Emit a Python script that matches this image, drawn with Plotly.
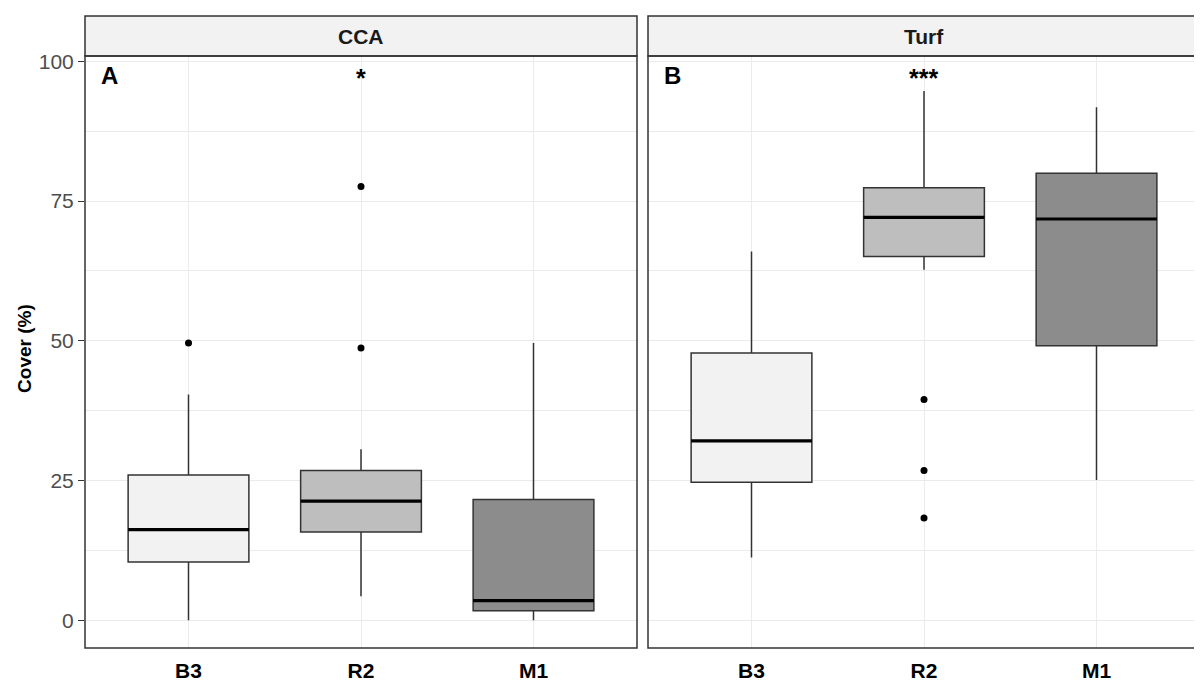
import plotly.graph_objects as go

# ---------------- data ----------------
categories = ["B3", "R2", "M1"]
panels = ["CCA", "Turf"]
panel_tags = ["A", "B"]
signif_labels = ["*", "***"]
signif_y = [97.0, 97.0]
tag_y = 97.4

cca_q1 = [10.4, 15.8, 1.7]
cca_median = [16.2, 21.3, 3.5]
cca_q3 = [26.0, 26.8, 21.6]
cca_lower = [0.0, 4.3, 0.0]
cca_upper = [40.4, 30.6, 49.6]
cca_outliers = [[49.6], [77.6, 48.7], []]

turf_q1 = [24.7, 65.1, 49.1]
turf_median = [32.1, 72.1, 71.8]
turf_q3 = [47.8, 77.4, 80.0]
turf_lower = [11.2, 62.7, 25.1]
turf_upper = [66.0, 94.7, 91.8]
turf_outliers = [[], [39.5, 26.8, 18.3], []]

y_ticks = [0, 25, 50, 75, 100]

# ---------------- style ----------------
fills = ["#F2F2F2", "#BEBEBE", "#8C8C8C"]
FONT = "Liberation Sans, Arial, Helvetica, sans-serif"
BOX_W = 0.7
BORDER = "#333333"
GRID = "#EBEBEB"

# the page body has an 8px margin, so the figure is drawn 8px in from the corner
OFF = 8
W, H = 1202 - OFF, 686 - OFF
ML, MT = 85 - OFF, 12 - OFF
MR = W - (1200 - OFF)
MB = H - (648 - OFF)
plot_w = W - ML - MR
plot_h = H - MT - MB
p1 = [0, (637 - 85) / plot_w]
p2 = [(648 - 85) / plot_w, 1]
ytop = (648 - 52.3) / plot_h

data_sets = [
    (cca_q1, cca_median, cca_q3, cca_lower, cca_upper, cca_outliers),
    (turf_q1, turf_median, turf_q3, turf_lower, turf_upper, turf_outliers),
]

fig = go.Figure()
for p, (q1, med, q3, lo, hi, outl) in enumerate(data_sets):
    xa = "x" if p == 0 else "x2"
    ya = "y" if p == 0 else "y2"
    for i, cat in enumerate(categories):
        xpos = i + 1
        fig.add_trace(go.Box(
            x=[xpos], q1=[q1[i]], median=[med[i]], q3=[q3[i]],
            lowerfence=[lo[i]], upperfence=[hi[i]],
            width=BOX_W, fillcolor=fills[i],
            line=dict(color=BORDER, width=1.5), whiskerwidth=0,
            boxpoints=False, name=cat, showlegend=False,
            xaxis=xa, yaxis=ya, hoverinfo="y",
        ))
        fig.add_trace(go.Scatter(
            x=[xpos - BOX_W / 2, xpos + BOX_W / 2], y=[med[i], med[i]],
            mode="lines", line=dict(color="black", width=3.2),
            showlegend=False, xaxis=xa, yaxis=ya, hoverinfo="skip",
        ))
        if outl[i]:
            fig.add_trace(go.Scatter(
                x=[xpos] * len(outl[i]), y=outl[i], mode="markers",
                marker=dict(color="black", size=7),
                showlegend=False, xaxis=xa, yaxis=ya,
            ))

axis_common = dict(
    range=[0.4, 3.6], tickvals=[1, 2, 3], ticktext=categories,
    showgrid=True, gridcolor=GRID, gridwidth=1.2, zeroline=False,
    ticks="", showline=False,
    tickfont=dict(family=FONT, size=21, color="black", weight="bold"),
    ticklabelstandoff=8,
)
yaxis_common = dict(
    range=[-4.98, 100.96], tickvals=y_ticks, domain=[0, ytop],
    showgrid=True, gridcolor=GRID, gridwidth=1.2, zeroline=False,
    showline=False,
    minor=dict(dtick=12.5, tick0=0, showgrid=True, gridcolor=GRID, gridwidth=0.8),
)

fig.update_layout(
    width=W, height=H,
    margin=dict(l=ML, r=MR, t=MT, b=MB),
    paper_bgcolor="white", plot_bgcolor="white",
    font=dict(family=FONT),
    xaxis=dict(domain=p1, anchor="y", **axis_common),
    xaxis2=dict(domain=p2, anchor="y2", **axis_common),
    yaxis=dict(anchor="x", ticks="outside", ticklen=6, tickcolor=BORDER,
               tickwidth=1.2,
               tickfont=dict(family=FONT, size=21, color="#4D4D4D"),
               **yaxis_common),
    yaxis2=dict(anchor="x2", matches="y", showticklabels=False, ticks="",
                **yaxis_common),
)

shapes = []
annotations = []
for p, dom in enumerate([p1, p2]):
    xa = "x" if p == 0 else "x2"
    ya = "y" if p == 0 else "y2"
    shapes.append(dict(type="rect", xref="paper", yref="paper",
                       x0=dom[0], x1=dom[1], y0=ytop, y1=1,
                       fillcolor="#F2F2F2", line=dict(color=BORDER, width=1.5),
                       layer="above"))
    shapes.append(dict(type="rect", xref=f"{xa} domain", yref=f"{ya} domain",
                       x0=0, x1=1, y0=0, y1=1, fillcolor="rgba(0,0,0,0)",
                       line=dict(color=BORDER, width=1.5), layer="above"))
    annotations.append(dict(text=f"<b>{panels[p]}</b>", xref="paper", yref="paper",
                            x=(dom[0] + dom[1]) / 2, y=(ytop + 1) / 2,
                            showarrow=False, xanchor="center", yanchor="middle",
                            font=dict(family=FONT, size=21, color="#1A1A1A")))
    annotations.append(dict(text=f"<b>{panel_tags[p]}</b>", xref=f"{xa} domain",
                            yref=ya, x=0.026, y=tag_y, showarrow=False,
                            xanchor="left", yanchor="middle",
                            font=dict(family=FONT, size=24, color="black")))
    annotations.append(dict(text=f"<b>{signif_labels[p]}</b>", xref=xa, yref=ya,
                            x=2, y=signif_y[p], showarrow=False,
                            xanchor="center", yanchor="middle",
                            font=dict(family=FONT, size=25, color="black")))

annotations.append(dict(text="<b>Cover (%)</b>", xref="paper", yref="paper",
                        x=(25 - 85) / plot_w, y=(648 - 347) / plot_h, textangle=-90,
                        showarrow=False, xanchor="center", yanchor="middle",
                        font=dict(family=FONT, size=19, color="black")))

fig.update_layout(shapes=shapes, annotations=annotations)
fig.write_html("out.html")
